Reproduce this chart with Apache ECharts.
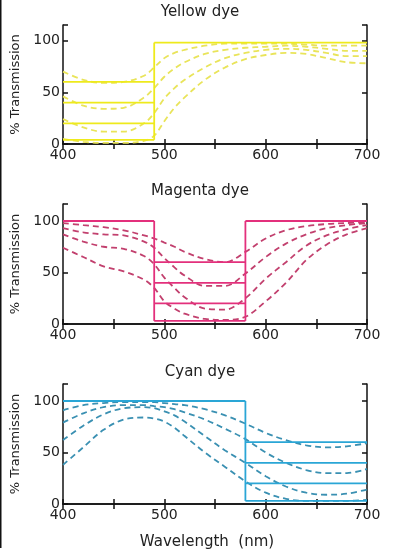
<!DOCTYPE html>
<html><head><meta charset="utf-8">
<script src="https://cdn.jsdelivr.net/npm/echarts@6/dist/echarts.min.js"></script>
<style>html,body{margin:0;padding:0;background:#fff}#c{width:394px;height:560px}</style>
</head><body><div id="c"></div>
<script>
// ---------- data ----------
const wavelengths = [400,420,440,460,480,490,500,510,520,540,560,580,600,620,640,660,680,700];

const yellowDashed1 = [70,62,59,60,66,74,83,88,91,95,97,97,97,97,96,95,95,95];
const yellowDashed2 = [46,37,34,35,45,54,65,73,79,87,91,93,94,95,94,92,90,90];
const yellowDashed3 = [24,16,12,12,20,30,44,54,62,74,83,88,91,92,91,88,85,85];
const yellowDashed4 = [5,2,1,1,3,8,22,35,45,62,74,82,86,88,87,83,79,78];

const magentaDashed1 = [98,96,94,91,86,83,79,75,70,63,60,70,83,91,95,97,98,99];
const magentaDashed2 = [93,89,87,86,80,74,64,55,47,37,37,49,65,78,87,93,96,98];
const magentaDashed3 = [87,80,75,73,66,58,45,35,26,15,14,25,44,60,76,86,92,96];
const magentaDashed4 = [74,65,56,51,43,35,22,15,10,5,4,7,22,40,62,77,87,93];

const cyanDashed1 = [91,96,98,99,99,99,98,97,96,92,86,78,69,62,57,55,56,59];
const cyanDashed2 = [79,88,94,96,96,95,94,92,89,82,73,63,50,40,33,30,30,34];
const cyanDashed3 = [62,76,87,93,94,93,90,86,80,66,52,40,27,17,11,9,10,14];
const cyanDashed4 = [38,55,72,82,84,83,80,74,66,50,36,22,11,5,3,3,3,4];

// ideal (block) filters: levels inside the absorption band, full transmission outside
const yellowLevels = [60,40,20,4];   const yellowFull = 98;  const yellowBand = [400,490];
const magentaLevels = [60,40,20,3];  const magentaFull = 100; const magentaBand = [490,580];
const cyanLevels = [60,40,20,3];     const cyanFull = 100;    const cyanBand = [580,700];

const xTickLabels = [400,500,600,700];
const yTickLabels = [0,50,100];
const panelTitles = ['Yellow dye','Magenta dye','Cyan dye'];
const yAxisTitle = '% Transmission';
const xAxisTitle = 'Wavelength  (nm)';

// ---------- styling / layout ----------
const FONT = 'DejaVu Sans';
const panels = [
  {top:25, height:119, ymax:115, solid:'#eeea1c', dash:'#e9e45a', dashed:[yellowDashed1,yellowDashed2,yellowDashed3,yellowDashed4], levels:yellowLevels, full:yellowFull, band:yellowBand},
  {top:204, height:120, ymax:116.5, solid:'#e3307c', dash:'#c2406e', dashed:[magentaDashed1,magentaDashed2,magentaDashed3,magentaDashed4], levels:magentaLevels, full:magentaFull, band:magentaBand},
  {top:384, height:120, ymax:116.5, solid:'#2aa6d6', dash:'#3a90b2', dashed:[cyanDashed1,cyanDashed2,cyanDashed3,cyanDashed4], levels:cyanLevels, full:cyanFull, band:cyanBand}
];
const XMIN = 400, XMAX = 700;

const grid = [], xAxis = [], yAxis = [], series = [];
const axisLine = {show:true, lineStyle:{color:'#111', width:1.5}};
const tick = {show:true, inside:true, length:5, lineStyle:{color:'#111', width:1.5}};
const labelStyle = {color:'#222', fontFamily:FONT, fontSize:14};

panels.forEach((p, i) => {
  grid.push({left:63, top:p.top, width:304, height:p.height, containLabel:false});
  xAxis.push({type:'value', gridIndex:i, min:XMIN, max:XMAX, interval:50, position:'bottom',
    axisLine, axisTick:tick, splitLine:{show:false},
    axisLabel:{...labelStyle, margin:4, formatter:v => xTickLabels.includes(v) ? String(v) : ''}});
  xAxis.push({type:'value', gridIndex:i, min:XMIN, max:XMAX, interval:50, position:'top',
    axisLine, axisTick:tick, splitLine:{show:false}, axisLabel:{show:false}});
  yAxis.push({type:'value', gridIndex:i, min:0, max:p.ymax, interval:50, position:'left',
    axisLine, axisTick:tick, splitLine:{show:false},
    name:yAxisTitle, nameLocation:'middle', nameGap:38, nameRotate:90,
    nameTextStyle:{color:'#222', fontFamily:FONT, fontSize:13},
    axisLabel:{...labelStyle, margin:3, formatter:v => yTickLabels.includes(v) ? String(v) : ''}});
  yAxis.push({type:'value', gridIndex:i, min:0, max:p.ymax, interval:50, position:'right',
    axisLine, axisTick:tick, splitLine:{show:false}, axisLabel:{show:false}});

  const xi = i*2, yi = i*2;
  // dashed measured curves
  p.dashed.forEach(vals => {
    series.push({type:'line', xAxisIndex:xi, yAxisIndex:yi, smooth:0.35, symbol:'none', silent:true,
      lineStyle:{color:p.dash, width:1.8, type:[6,4]},
      data:wavelengths.map((w,k)=>[w, vals[k]])});
  });
  // solid ideal block lines
  const solidStyle = {color:p.solid, width:1.8, type:'solid'};
  const addSeg = (d) => series.push({type:'line', xAxisIndex:xi, yAxisIndex:yi, symbol:'none', silent:true, lineStyle:solidStyle, data:d, z:3});
  p.levels.forEach(lv => addSeg([[p.band[0], lv],[p.band[1], lv]]));
  if (p.band[0] > XMIN) addSeg([[XMIN, p.full],[p.band[0], p.full]]);
  if (p.band[1] < XMAX) addSeg([[p.band[1], p.full],[XMAX, p.full]]);
  const lo = Math.min(...p.levels);
  p.band.forEach(e => { if (e > XMIN && e < XMAX) addSeg([[e, lo],[e, p.full]]); });
});

const titleY = [12, 191, 372];
const graphic = panelTitles.map((t,i)=>({type:'text', left:null, x:200, y:titleY[i],
  style:{text:t, fill:'#222', font:`15px "${FONT}"`, textAlign:'center', textVerticalAlign:'middle'}}));
graphic.push({type:'text', x:207, y:542, style:{text:xAxisTitle, fill:'#222', font:`15px "${FONT}"`, textAlign:'center', textVerticalAlign:'middle'}});
graphic.push({type:'rect', shape:{x:0, y:0, width:1.5, height:548}, style:{fill:'#111'}});

const chart = echarts.init(document.getElementById('c'), null, {renderer:'canvas'});
chart.setOption({animation:false, backgroundColor:'#fff', grid, xAxis, yAxis, series, graphic});
</script></body></html>
